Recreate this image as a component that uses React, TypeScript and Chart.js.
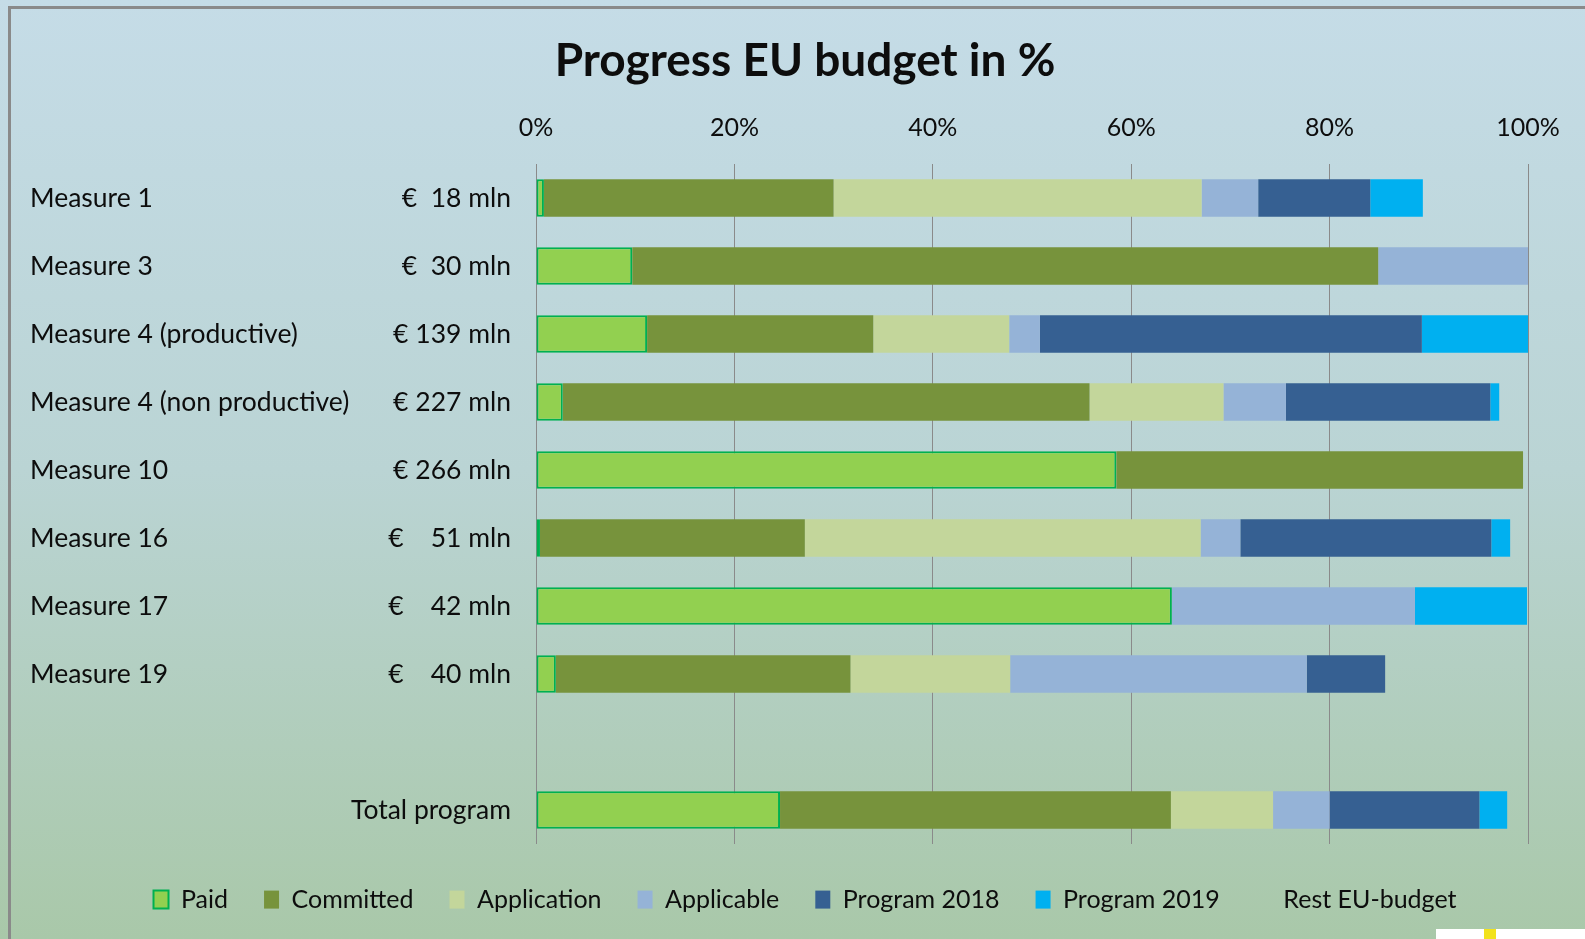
import React, { useEffect, useRef } from "react";
import { Chart, registerables } from "chart.js";

Chart.register(...registerables);

const measureNames = [
  "Measure 1",
  "Measure 3",
  "Measure 4 (productive)",
  "Measure 4 (non productive)",
  "Measure 10",
  "Measure 16",
  "Measure 17",
  "Measure 19",
  "",
  "",
];
const budgetLabels = [
  "€  18 mln",
  "€  30 mln",
  "€ 139 mln",
  "€ 227 mln",
  "€ 266 mln",
  "€    51 mln",
  "€    42 mln",
  "€    40 mln",
  "",
  "Total program",
];

const paid = [0.8, 9.7, 11.2, 2.7, 58.5, 0.4, 64.1, 2.0, null, 24.6];
const committed = [29.2, 75.2, 22.8, 53.1, 41.0, 26.7, 0, 29.7, null, 39.4];
const application = [37.1, 0, 13.7, 13.5, 0, 39.9, 0, 16.1, null, 10.3];
const applicable = [5.7, 15.1, 3.1, 6.3, 0, 4.0, 24.5, 29.9, null, 5.7];
const program2018 = [11.3, 0, 38.5, 20.6, 0, 25.3, 0, 7.9, null, 15.1];
const program2019 = [5.3, 0, 10.7, 0.9, 0, 1.9, 11.3, 0, null, 2.8];
const restBudget = [10.6, 0, 0, 2.9, 0.5, 1.8, 0.2, 14.4, null, 2.1];

const xTicks = [0, 20, 40, 60, 80, 100];

const FONT = "Lato";

const namesPlugin = {
  id: "measureNames",
  afterDraw(chart: any) {
    const { ctx } = chart;
    const yScale = chart.scales.y;
    ctx.save();
    ctx.font = `26.5px ${FONT}`;
    ctx.fillStyle = "#0d0d0d";
    ctx.textAlign = "left";
    ctx.textBaseline = "middle";
    measureNames.forEach((name, i) => {
      if (!name) return;
      ctx.fillText(name, 30, yScale.getPixelForValue(i));
    });
    ctx.restore();
  },
};

export default function App() {
  const canvasRef = useRef<HTMLCanvasElement | null>(null);

  useEffect(() => {
    document.body.style.margin = "0";
    const canvas = canvasRef.current;
    if (!canvas) return;
    const mk = (label: string, data: any[], color: string, extra: any = {}) => ({
      label,
      data,
      backgroundColor: color,
      borderWidth: 0,
      borderSkipped: false,
      ...extra,
    });
    const chart = new Chart(canvas, {
      type: "bar",
      data: {
        labels: budgetLabels,
        datasets: [
          mk("Paid", paid, "#92D050", { borderColor: "#00B050", borderWidth: 2 }),
          mk("Committed", committed, "#77933C"),
          mk("Application", application, "#C3D69B"),
          mk("Applicable", applicable, "#95B3D7"),
          mk("Program 2018", program2018, "#366092"),
          mk("Program 2019", program2019, "#00B0F0"),
          mk("Rest EU-budget", restBudget, "rgba(0,0,0,0)"),
        ],
      },
      options: {
        indexAxis: "y",
        responsive: false,
        animation: false,
        datasets: {
          bar: { categoryPercentage: 1, barPercentage: 0.55 },
        },
        layout: { padding: { left: 82, right: 57, top: 0, bottom: 16.9 } },
        scales: {
          x: {
            position: "top",
            stacked: true,
            min: 0,
            max: 100,
            afterBuildTicks: (scale: any) => {
              scale.ticks = xTicks.map((v) => ({ value: v }));
            },
            afterFit: (scale: any) => {
              scale.height = 75.4;
            },
            border: { display: false },
            grid: { color: "#8a8a8a", lineWidth: 1, drawTicks: false },
            ticks: {
              padding: 21,
              color: "#0d0d0d",
              font: { family: FONT, size: 25 },
              callback: (v: any) => v + "%",
            },
          },
          y: {
            stacked: true,
            afterFit: (scale: any) => {
              scale.width = 454;
            },
            border: { display: false },
            grid: { display: false, drawTicks: false },
            ticks: {
              padding: 25,
              color: "#0d0d0d",
              font: { family: FONT, size: 26.5 },
            },
          },
        },
        plugins: {
          title: {
            display: true,
            text: "Progress EU budget in %",
            color: "#0d0d0d",
            font: { family: FONT, size: 46, weight: "bold" },
            padding: { top: 33.4, bottom: 0 },
          },
          legend: {
            position: "bottom",
            title: {
              display: true,
              text: "",
              font: { size: 1, lineHeight: 1 },
              padding: { top: 3.05, bottom: 3.05 },
            },
            labels: {
              boxWidth: 15,
              boxHeight: 18,
              padding: 36,
              color: "#0d0d0d",
              font: { family: FONT, size: 25 },
            },
          },
          tooltip: { enabled: false },
        },
      },
      plugins: [namesPlugin],
    } as any);
    return () => chart.destroy();
  }, []);

  return (
    <div
      style={{
        position: "fixed",
        left: 0,
        top: 0,
        width: 1585,
        height: 939,
        overflow: "hidden",
        background: "linear-gradient(to bottom, #C5DCE7 0%, #BAD4D4 50%, #A9C8A9 100%)",
      }}
    >
      <div
        style={{
          position: "absolute",
          left: 8,
          top: 6,
          width: 1700,
          height: 1000,
          borderLeft: "3px solid #8a8a8a",
          borderTop: "3px solid #8a8a8a",
        }}
      />
      <div
        style={{
          position: "absolute",
          left: 1436,
          top: 929,
          width: 160,
          height: 20,
          background: "#ffffff",
        }}
      />
      <div
        style={{
          position: "absolute",
          left: 1484,
          top: 929,
          width: 12,
          height: 20,
          background: "#F2E21C",
        }}
      />
      <canvas
        ref={canvasRef}
        width={1585}
        height={939}
        style={{ position: "absolute", left: 0, top: 0, width: 1585, height: 939 }}
      />
    </div>
  );
}
